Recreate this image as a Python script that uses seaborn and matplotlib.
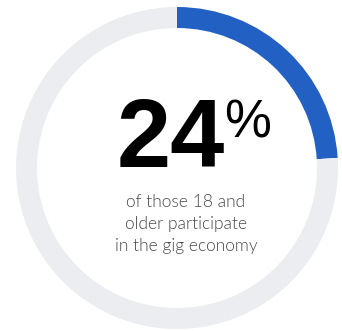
import matplotlib
matplotlib.use("Agg")
import matplotlib.pyplot as plt
import seaborn as sns

sns.set_theme(style="white")

# Data
labels = ["Participate", "Do not participate"]
values = [24, 76]
big_value = "24"
big_unit = "%"
caption_lines = ["of those 18 and", "older participate", "in the gig economy"]
colors = ["#2360c4", "#ecedf0"]

W, H = 342, 331
fig = plt.figure(figsize=(W / 100, H / 100), dpi=100)
ax = fig.add_axes([0, 0, 1, 1])

cx, cy, r, w = 177, H - 168, 161, 21
ax.pie(values, colors=colors, startangle=90, counterclock=False,
       center=(cx, cy), radius=r, frame=True,
       wedgeprops=dict(width=w, linewidth=0))
ax.set_xlim(0, W)
ax.set_ylim(0, H)
ax.set_aspect("equal")
ax.axis("off")

ax.text(225, H - 167, big_value, ha="right", va="baseline",
        family="Liberation Sans", fontweight="bold", fontsize=70, color="#000000")
ax.text(224, H - 137, big_unit, ha="left", va="baseline",
        family="Liberation Sans", fontsize=38, color="#000000")

for i, line in enumerate(caption_lines):
    ax.text(186, H - (207 + i * 22), line, ha="center", va="baseline",
            family="Lato", fontweight=300, fontsize=12.5, color="#4a4a4a")

fig.savefig("out.png", dpi=100)
